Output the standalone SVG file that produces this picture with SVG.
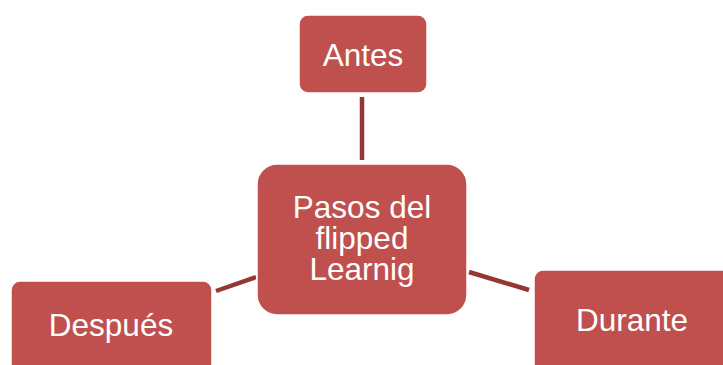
<svg xmlns="http://www.w3.org/2000/svg" width="723" height="365" viewBox="0 0 723 365">
<style>
.n{fill:#C0504D;stroke:#ffffff;stroke-width:1.5}
.t{font-family:"Liberation Sans",Arial,sans-serif;font-size:31.5px;fill:#ffffff;text-anchor:middle}
.c{stroke:#953735;stroke-width:4.5;fill:none}
</style>
<rect width="723" height="365" fill="#ffffff"/>
<g id="connectors">
<line class="c" x1="362" y1="97" x2="362" y2="160"/>
<line class="c" x1="216" y1="291" x2="256" y2="277"/>
<line class="c" x1="469" y1="272" x2="529" y2="290"/>
</g>
<g id="antes">
<rect class="n" x="299" y="15" width="128" height="78" rx="9"/>
<text class="t" x="363" y="66">Antes</text>
</g>
<g id="centro">
<rect class="n" x="257" y="164" width="210" height="151" rx="20"/>
<text class="t" x="362" y="218">Pasos del</text>
<text class="t" x="362" y="249">flipped</text>
<text class="t" x="362" y="280">Learnig</text>
</g>
<g id="despues">
<rect class="n" x="11" y="281" width="201" height="100" rx="9"/>
<text class="t" x="111" y="336">Después</text>
</g>
<g id="durante">
<rect class="n" x="534" y="270" width="200" height="110" rx="9"/>
<text class="t" x="632" y="331">Durante</text>
</g>
</svg>
